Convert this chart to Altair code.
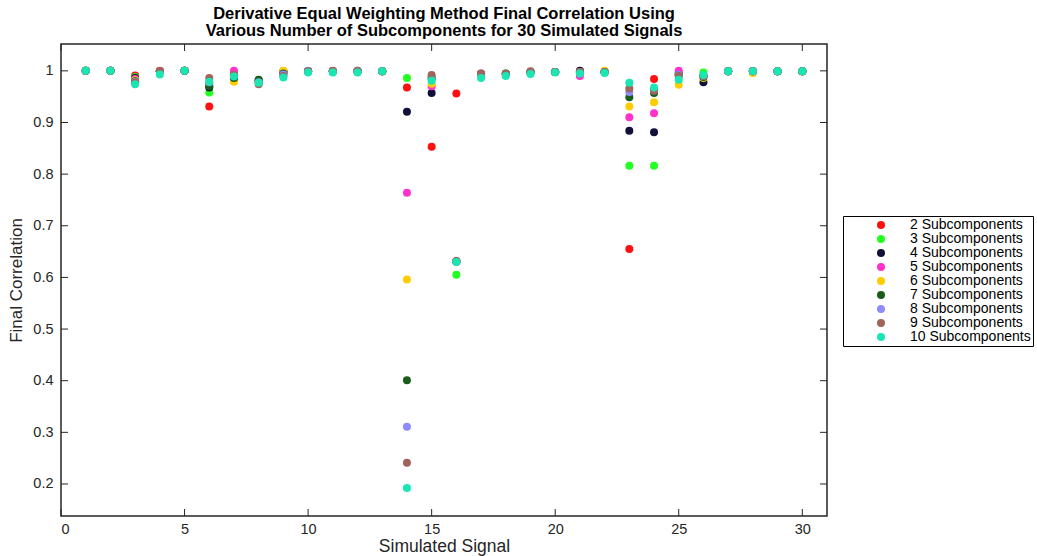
import altair as alt
import pandas as pd

signals = list(range(1, 31))

series_labels = ["2 Subcomponents", "3 Subcomponents", "4 Subcomponents",
                 "5 Subcomponents", "6 Subcomponents", "7 Subcomponents",
                 "8 Subcomponents", "9 Subcomponents", "10 Subcomponents"]
series_colors = ["#ff1010", "#22ff22", "#10103a", "#ff33cc", "#ffcc00",
                 "#1a5c1a", "#8c8cff", "#a0645a", "#1ae6b4"]

s2 = [1.0, 1.0, 0.991, 0.999, 1.0, 0.931, 0.998, 0.980, 0.999, 0.999,
      0.999, 0.999, 0.999, 0.968, 0.853, 0.956, 0.994, 0.994, 0.998, 0.998,
      0.999, 0.998, 0.655, 0.984, 0.995, 0.990, 0.999, 0.999, 0.999, 0.999]
s3 = [1.0, 1.0, 0.988, 0.999, 1.0, 0.958, 0.997, 0.980, 0.999, 0.999,
      0.999, 0.999, 0.999, 0.986, 0.986, 0.605, 0.994, 0.995, 0.998, 0.998,
      0.998, 0.998, 0.816, 0.816, 0.995, 0.997, 0.999, 0.999, 0.999, 0.999]
s4 = [1.0, 1.0, 0.986, 0.999, 1.0, 0.968, 0.984, 0.982, 0.998, 0.999,
      0.999, 1.0, 0.999, 0.921, 0.957, 0.631, 0.994, 0.994, 0.998, 0.998,
      1.0, 0.998, 0.884, 0.881, 0.994, 0.978, 0.999, 0.999, 0.999, 0.999]
s5 = [1.0, 1.0, 0.984, 0.999, 1.0, 0.973, 1.0, 0.980, 0.998, 0.999,
      0.999, 0.999, 0.999, 0.764, 0.970, 0.631, 0.995, 0.994, 0.998, 0.998,
      0.990, 0.998, 0.910, 0.918, 1.0, 0.990, 0.999, 0.999, 0.999, 0.999]
s6 = [1.0, 1.0, 0.982, 0.999, 1.0, 0.976, 0.979, 0.980, 1.0, 0.999,
      0.999, 0.999, 0.999, 0.596, 0.975, 0.631, 0.994, 0.994, 1.0, 0.998,
      0.998, 1.0, 0.931, 0.939, 0.973, 0.986, 0.999, 0.996, 0.999, 0.999]
s7 = [1.0, 1.0, 0.980, 0.999, 1.0, 0.970, 0.986, 0.983, 0.995, 0.999,
      0.999, 0.999, 0.999, 0.401, 0.985, 0.631, 0.994, 0.995, 0.998, 0.998,
      0.998, 0.998, 0.949, 0.957, 0.992, 0.988, 0.999, 0.999, 0.999, 0.999]
s8 = [1.0, 1.0, 0.979, 0.999, 1.0, 0.978, 0.990, 0.978, 0.993, 1.0,
      0.999, 0.999, 0.999, 0.311, 0.988, 0.631, 0.994, 0.994, 0.999, 0.998,
      0.998, 0.998, 0.959, 0.962, 0.992, 0.990, 0.999, 0.999, 0.999, 0.999]
s9 = [1.0, 1.0, 0.978, 1.0, 1.0, 0.986, 0.992, 0.974, 0.990, 0.999,
      1.0, 0.999, 0.999, 0.241, 0.992, 0.632, 0.995, 0.994, 0.998, 0.998,
      0.998, 0.998, 0.966, 0.962, 0.990, 0.990, 0.999, 0.999, 0.999, 0.999]
s10 = [1.0, 1.0, 0.974, 0.993, 1.0, 0.979, 0.989, 0.977, 0.987, 0.997,
       0.997, 0.997, 0.999, 0.192, 0.981, 0.630, 0.986, 0.990, 0.994, 0.997,
       0.995, 0.996, 0.977, 0.968, 0.983, 0.992, 0.999, 0.999, 0.999, 0.999]

all_series = [s2, s3, s4, s5, s6, s7, s8, s9, s10]

x_ticks = [0, 5, 10, 15, 20, 25, 30]
y_ticks = [0.2, 0.3, 0.4, 0.5, 0.6, 0.7, 0.8, 0.9, 1.0]

rows = []
for label, vals in zip(series_labels, all_series):
    for sig, v in zip(signals, vals):
        rows.append({"signal": sig, "corr": v, "series": label})
df = pd.DataFrame(rows)
xt = pd.DataFrame({"t": x_ticks})
yt = pd.DataFrame({"t": y_ticks})

W, H = 766, 472
FONT = "Liberation Sans"
AX = "#262626"

xscale = alt.Scale(domain=[0, 31], nice=False, zero=False)
yscale = alt.Scale(domain=[0.138, 1.052], nice=False, zero=False)

points = alt.Chart(df).mark_point(filled=True, size=64, opacity=1, shape="circle").encode(
    x=alt.X("signal:Q", scale=xscale, title="Simulated Signal",
            axis=alt.Axis(values=x_ticks, tickSize=0, domain=False, grid=False,
                          labelPadding=6, titlePadding=2,
                          labelFont=FONT, titleFont=FONT, labelFontSize=14.5,
                          titleFontSize=17.5, labelColor=AX, titleColor=AX,
                          titleFontWeight="normal")),
    y=alt.Y("corr:Q", scale=yscale, title="Final Correlation",
            axis=alt.Axis(values=y_ticks, tickSize=0, domain=False, grid=False,
                          labelPadding=8, titlePadding=7,
                          labelFont=FONT, titleFont=FONT, labelFontSize=14.5,
                          titleFontSize=17, labelColor=AX, titleColor=AX,
                          titleFontWeight="normal",
                          labelExpr="datum.value == 1 ? '1' : format(datum.value, '.1f')")),
    color=alt.Color("series:N",
                    scale=alt.Scale(domain=series_labels, range=series_colors),
                    legend=alt.Legend(title=None, orient="none", legendX=782, legendY=172,
                                      strokeColor="black", padding=2, symbolOffset=29,
                                      labelOffset=22, rowPadding=0, symbolSize=64,
                                      symbolType="circle", labelFontSize=14,
                                      labelFont=FONT, labelColor="black",
                                      symbolStrokeWidth=0)),
)

xb = alt.Chart(xt).mark_rule(color=AX, strokeWidth=1).encode(
    x=alt.X("t:Q", scale=xscale), y=alt.value(H), y2=alt.value(H - 7))
xtop = alt.Chart(xt).mark_rule(color=AX, strokeWidth=1).encode(
    x=alt.X("t:Q", scale=xscale), y=alt.value(0), y2=alt.value(7))
yl = alt.Chart(yt).mark_rule(color=AX, strokeWidth=1).encode(
    y=alt.Y("t:Q", scale=yscale), x=alt.value(0), x2=alt.value(7))
yr = alt.Chart(yt).mark_rule(color=AX, strokeWidth=1).encode(
    y=alt.Y("t:Q", scale=yscale), x=alt.value(W - 7), x2=alt.value(W))

chart = alt.layer(xb, xtop, yl, yr, points).properties(
    width=W, height=H,
    autosize=alt.AutoSizeParams(type="none"),
    padding={"left": 61, "top": 44, "right": 210, "bottom": 40},
    background="white",
    title=alt.TitleParams(
        ["Derivative Equal Weighting Method Final Correlation Using",
         "Various Number of Subcomponents for 30 Simulated Signals"],
        fontSize=16.5, font=FONT, fontWeight="bold", color="black",
        lineHeight=17.5, offset=4, anchor="middle"),
).configure_view(stroke=AX, strokeWidth=1.5)

chart.save("out.html", embed_options={"renderer": "svg", "actions": False})
